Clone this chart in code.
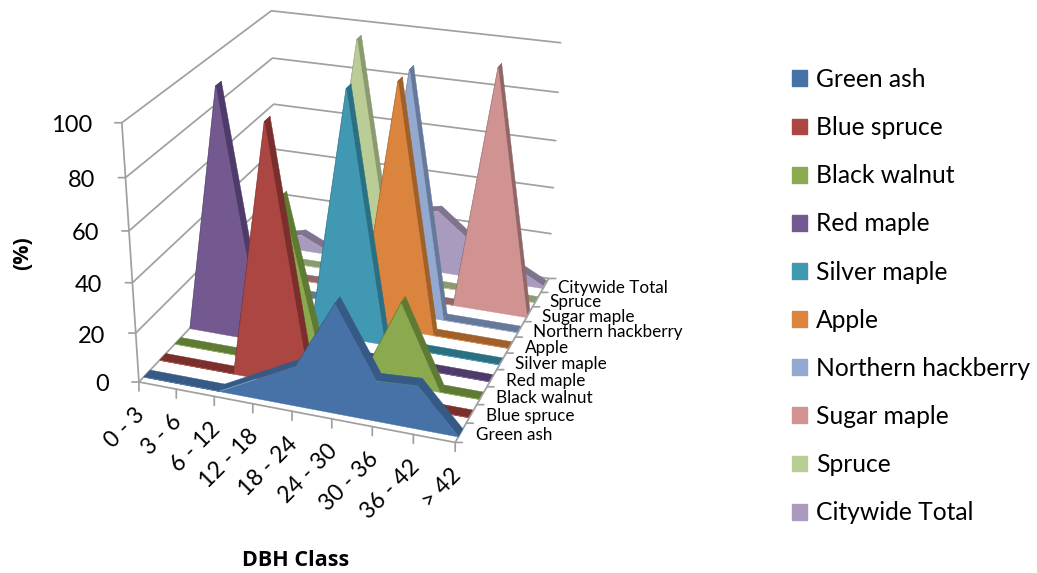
import numpy as np, pandas as pd, seaborn as sns, matplotlib
matplotlib.use("Agg")
import matplotlib.pyplot as plt
from matplotlib.patches import Patch
from mpl_toolkits.mplot3d import proj3d
from mpl_toolkits.mplot3d.art3d import Poly3DCollection, Line3D

categories = ["0 - 3","3 - 6","6 - 12","12 - 18","18 - 24","24 - 30","30 - 36","36 - 42","> 42"]
green_ash = [0,0,0,8,16,43,16,17,0]
blue_spruce = [0,0,0,100,0,0,0,0,0]
black_walnut = [0,0,0,67,0,0,33,0,0]
red_maple = [0,100,0,0,0,0,0,0,0]
silver_maple = [0,0,0,0,100,0,0,0,0]
apple = [0,0,0,0,0,100,0,0,0]
northern_hackberry = [0,0,0,0,0,100,0,0,0]
sugar_maple = [0,0,0,0,0,0,0,100,0]
spruce = [0,0,0,100,0,0,0,0,0]
citywide_total = [3,7,0,14,24,27,15,9,1]
series_names = ["Green ash","Blue spruce","Black walnut","Red maple","Silver maple","Apple",
                "Northern hackberry","Sugar maple","Spruce","Citywide Total"]
series_values = [green_ash,blue_spruce,black_walnut,red_maple,silver_maple,apple,
                 northern_hackberry,sugar_maple,spruce,citywide_total]
front_colors = ["#4672A8","#AB4642","#8BAA4F","#73598F","#4198B2","#DB843D","#93A9CF","#D19392","#BACD96","#A99BBD"]
dark_colors = ["#355A85","#7B2F2D","#5F7A33","#4F3B6A","#2B6F83","#A0602A","#66799B","#8F6766","#8B9A70","#7F7490"]
z_ticks = [0,20,40,60,80,100]

sns.set_theme(style="white")
plt.rcParams['font.family'] = ['Lato','DejaVu Sans']
W,H = 1037,573
fig = plt.figure(figsize=(W/100,H/100),dpi=100)
L,B,S = 82.20,92.00,531.81
ax = fig.add_axes([L/W,B/H,S/W,S/H],projection='3d',computed_zorder=False)
ax.set_xlim(0,8,view_margin=0); ax.set_ylim(0,10,view_margin=0); ax.set_zlim(0,100,view_margin=0)
ax.view_init(elev=24.461,azim=-69.880,roll=0.207)
ax.set_proj_type('persp',focal_length=0.5791)
ax.set_box_aspect((1,np.exp(0.0890),np.exp(-0.1703)))
M=ax.get_proj()
ax.set_axis_off(); ax.patch.set_alpha(0)

grid="#A0A0A0"
LW=1.25
def line(xs,ys,zs,zo=1):
    ax.add_line(Line3D(xs,ys,zs,color=grid,lw=LW,zorder=zo,solid_capstyle='round'))
for z in z_ticks:
    line([0,0,8],[0,10,10],[z,z,z])
line([0,0],[0,0],[0,100],zo=30)
line([0,8],[0,0],[0,0],zo=30); line([8,8],[0,10],[0,0],zo=30)
def P(x,y,z):
    u,v,_=proj3d.proj_transform(x,y,z,M); return float(u),float(v)
tick=dict(arrowstyle='-',color=grid,lw=LW,shrinkA=0,shrinkB=0)
for z in z_ticks:
    xy=P(0,0,z)
    ax.annotate("",xy=xy,xytext=(-7,0),textcoords='offset pixels',arrowprops=tick,annotation_clip=False,zorder=31)
    ax.annotate(str(z),xy=xy,xytext=(-30,-3),textcoords='offset pixels',ha='right',va='center',fontsize=17,color='black',annotation_clip=False)
for i,cat in enumerate(categories):
    xy=P(i,0,0)
    ax.annotate("",xy=xy,xytext=(0,-9),textcoords='offset pixels',arrowprops=tick,annotation_clip=False,zorder=31)
    ax.annotate(cat,xy=xy,xytext=(-5,-22),textcoords='offset pixels',ha='right',va='top',rotation=45,rotation_mode='anchor',fontsize=16.5,color='black',annotation_clip=False)
for j in range(11):
    xy=P(8,j,0)
    ax.annotate("",xy=xy,xytext=(7,0),textcoords='offset pixels',arrowprops=tick,annotation_clip=False,zorder=31)
for j,name in enumerate(series_names):
    xy=P(8,j+0.5,0)
    ax.annotate(name,xy=xy,xytext=(15-0.25*j,-2.5),textcoords='offset pixels',ha='left',va='center',fontsize=12.3,color='black',annotation_clip=False)

df=pd.DataFrame(dict(zip(series_names,series_values)),index=categories)
for j in range(len(series_names)-1,-1,-1):
    vals=df[series_names[j]].to_numpy(float); y0,y1=j+0.3,j+0.7
    zo=10+(len(series_names)-j)*2
    xs=np.arange(len(vals))
    tops=[[(xs[k],y0,vals[k]),(xs[k+1],y0,vals[k+1]),(xs[k+1],y1,vals[k+1]),(xs[k],y1,vals[k])] for k in range(len(vals)-1)]
    ax.add_collection3d(Poly3DCollection(tops,facecolors=dark_colors[j],edgecolors=dark_colors[j],linewidths=0.3,zorder=zo,shade=False))
    front=[(0,y0,0)]+[(xs[k],y0,vals[k]) for k in range(len(vals))]+[(8,y0,0)]
    ax.add_collection3d(Poly3DCollection([front],facecolors=front_colors[j],edgecolors=front_colors[j],linewidths=0.3,zorder=zo+1,shade=False))

handles=[Patch(facecolor=c,edgecolor=c) for c in front_colors]
F=17.7
fig.legend(handles,series_names,loc='upper left',bbox_to_anchor=(792/W,1-68/H),frameon=False,fontsize=F,labelcolor='black',
           handlelength=10.8/F,handleheight=10.8/F,handletextpad=0.356,labelspacing=1.023,borderpad=0,borderaxespad=0)
bold=['Open Sans','DejaVu Sans']
fig.text(23/W,1-253/H,"(%)",rotation=90,ha='center',va='center',fontsize=15.5,fontweight='bold',family=bold,color='black')
fig.text(296/W,1-561/H,"DBH Class",ha='center',va='center',fontsize=15.5,fontweight='bold',family=bold,color='black')
fig.savefig("out.png",dpi=100)
